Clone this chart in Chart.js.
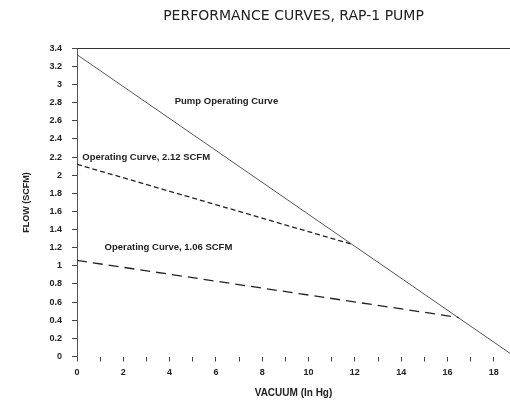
<!DOCTYPE html>
<html>
<head>
<meta charset="utf-8">
<title>Performance Curves, RAP-1 Pump</title>
<script src="https://cdn.jsdelivr.net/npm/chart.js@4.4.1/dist/chart.umd.min.js"></script>
<style>
  html, body { margin: 0; padding: 0; background: #fff; }
  #wrap { width: 510px; height: 401px; }
</style>
</head>
<body>
<div id="wrap"><canvas id="grafico"></canvas></div>
<script>
// Datos
const pumpVacuum = [0, 18.7];
const pumpFlow = [3.33, 0.035];

const curve212Vacuum = [0, 11.85];
const curve212Flow = [2.12, 1.24];

const curve106Vacuum = [0, 16.5];
const curve106Flow = [1.06, 0.43];

const curveLabels = [
  "Pump Operating Curve",
  "Operating Curve, 2.12 SCFM",
  "Operating Curve, 1.06 SCFM",
];

const xTickMin = 0;
const xTickMax = 18.7;
const xTickStep = 1;
const yTickMin = 0;
const yTickMax = 3.4;
const yTickStep = 0.2;

const fuente = "'Liberation Sans', Arial, sans-serif";

// Junto x e y en puntos para Chart.js
function puntos(xs, ys) {
  return xs.map(function (x, i) {
    return { x: x, y: ys[i] };
  });
}

// Textos de cada curva, ubicados en unidades de los ejes
const textosCurvas = {
  id: "textosCurvas",
  afterDatasetsDraw: function (chart, args, opts) {
    const ctx = chart.ctx;
    const sx = chart.scales.x;
    const sy = chart.scales.y;
    ctx.save();
    ctx.font = "bold 9.5px " + fuente;
    ctx.fillStyle = "#222";
    ctx.textAlign = "left";
    ctx.textBaseline = "middle";
    opts.items.forEach(function (item) {
      ctx.fillText(item.text, sx.getPixelForValue(item.x), sy.getPixelForValue(item.y));
    });
    ctx.restore();
  },
};

function mostrarGrafico() {
  const ctx = document.getElementById("grafico").getContext("2d");

  new Chart(ctx, {
    type: "scatter",
    data: {
      datasets: [
        {
          label: curveLabels[0],
          data: puntos(pumpVacuum, pumpFlow),
          showLine: true,
          borderColor: "#555",
          borderWidth: 1,
          pointRadius: 0,
        },
        {
          label: curveLabels[1],
          data: puntos(curve212Vacuum, curve212Flow),
          showLine: true,
          borderColor: "#222",
          borderWidth: 1.3,
          borderDash: [5, 3],
          pointRadius: 0,
        },
        {
          label: curveLabels[2],
          data: puntos(curve106Vacuum, curve106Flow),
          showLine: true,
          borderColor: "#222",
          borderWidth: 1.3,
          borderDash: [10, 6],
          pointRadius: 0,
        },
      ],
    },
    options: {
      responsive: true,
      maintainAspectRatio: false,
      animation: false,
      layout: { padding: 0 },
      plugins: {
        legend: { display: false },
        tooltip: { enabled: false },
        title: {
          display: true,
          text: "PERFORMANCE CURVES, RAP-1 PUMP",
          fullSize: false,
          color: "#222",
          font: { family: "'DejaVu Sans', sans-serif", size: 14, weight: "normal" },
          padding: { top: 7.5, bottom: 24 },
        },
        textosCurvas: {
          items: [
            { text: curveLabels[0], x: 4.22, y: 2.81 },
            { text: curveLabels[1], x: 0.23, y: 2.2 },
            { text: curveLabels[2], x: 1.19, y: 1.2 },
          ],
        },
      },
      scales: {
        x: {
          type: "linear",
          min: xTickMin,
          max: xTickMax,
          afterFit: function (s) {
            s.height = 44.5;
          },
          border: { display: false },
          grid: {
            drawOnChartArea: false,
            drawTicks: true,
            tickLength: 5,
            tickColor: "#444",
          },
          ticks: {
            stepSize: xTickStep,
            includeBounds: false,
            autoSkip: false,
            maxRotation: 0,
            padding: 6,
            color: "#222",
            font: { family: fuente, size: 9, weight: "bold" },
            callback: function (value) {
              return value % 2 === 0 ? String(value) : "";
            },
          },
          title: {
            display: true,
            text: "VACUUM (In Hg)",
            color: "#222",
            font: { family: fuente, size: 10, weight: "bold" },
            padding: { top: 0, bottom: 2 },
          },
        },
        y: {
          type: "linear",
          min: yTickMin,
          max: yTickMax,
          afterFit: function (s) {
            s.width = 77;
          },
          border: { display: true, color: "#555", width: 1 },
          grid: {
            drawOnChartArea: true,
            drawTicks: true,
            tickLength: 5,
            tickColor: "#444",
            // Solo la línea de arriba, en 3.4
            color: function (c) {
              return c.tick && Math.abs(c.tick.value - yTickMax) < 1e-6 ? "#333" : "rgba(0,0,0,0)";
            },
          },
          ticks: {
            stepSize: yTickStep,
            autoSkip: false,
            padding: 10,
            color: "#222",
            font: { family: fuente, size: 9, weight: "bold" },
            callback: function (value) {
              return String(Number(value.toFixed(1)));
            },
          },
          title: {
            display: true,
            text: "FLOW (SCFM)",
            color: "#222",
            font: { family: fuente, size: 9, weight: "bold" },
            padding: { top: 21.6, bottom: 0 },
          },
        },
      },
    },
    plugins: [textosCurvas],
  });
}

mostrarGrafico();
</script>
</body>
</html>
